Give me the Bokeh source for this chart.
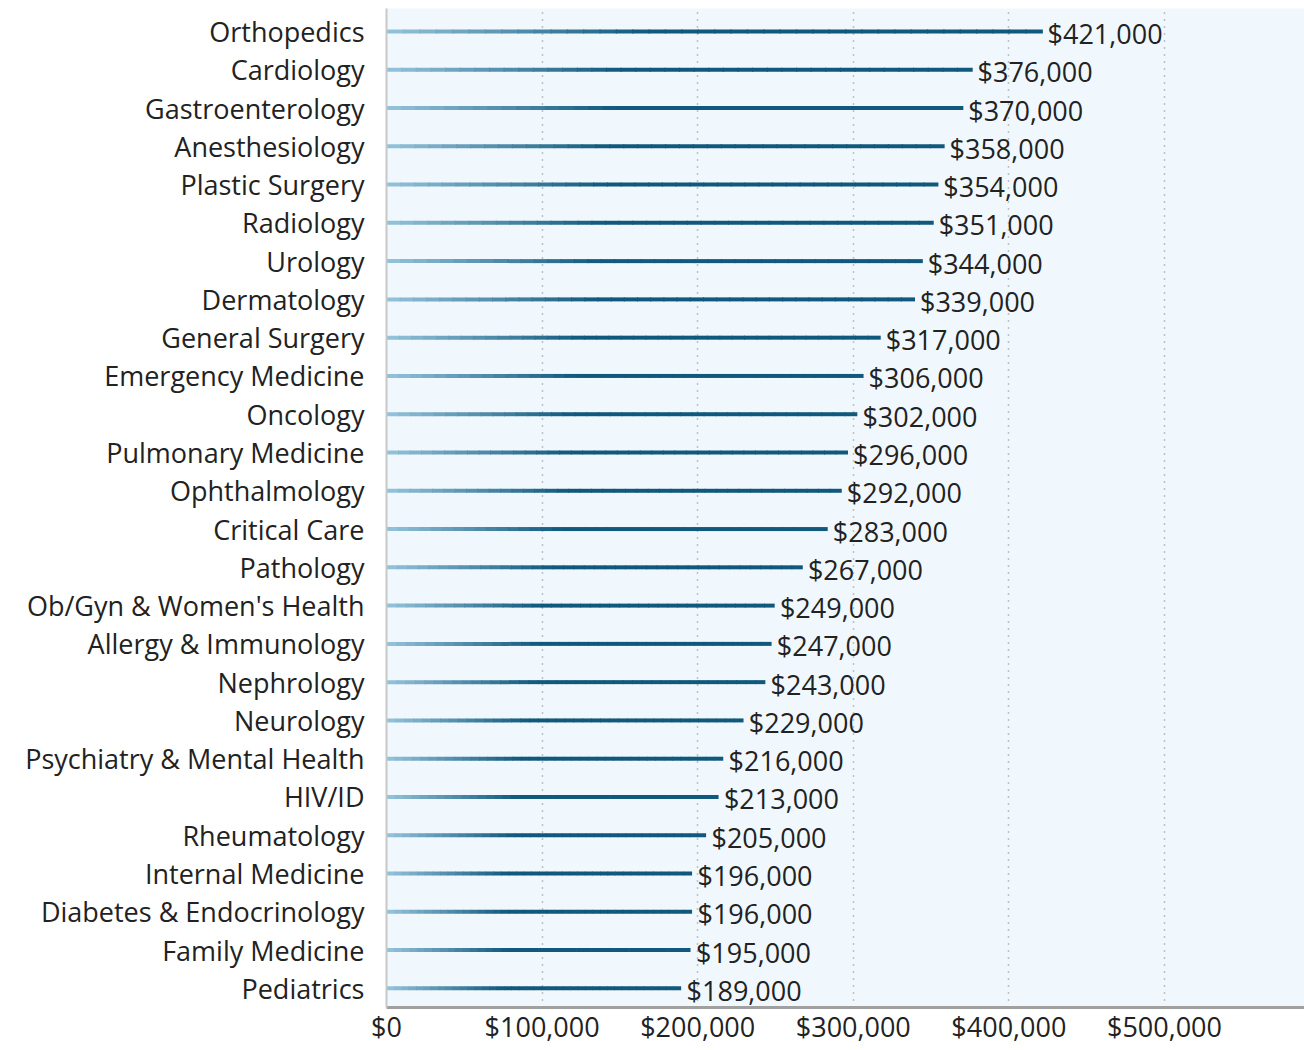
from bokeh.plotting import figure
from bokeh.models import Range1d, FixedTicker, ColumnDataSource, NumeralTickFormatter
from bokeh.core.properties import value
from bokeh.embed import file_html
from bokeh.resources import INLINE

specialties = ["Orthopedics", "Cardiology", "Gastroenterology", "Anesthesiology", "Plastic Surgery",
               "Radiology", "Urology", "Dermatology", "General Surgery", "Emergency Medicine",
               "Oncology", "Pulmonary Medicine", "Ophthalmology", "Critical Care", "Pathology",
               "Ob/Gyn & Women's Health", "Allergy & Immunology", "Nephrology", "Neurology",
               "Psychiatry & Mental Health", "HIV/ID", "Rheumatology", "Internal Medicine",
               "Diabetes & Endocrinology", "Family Medicine", "Pediatrics"]
salaries = [421000, 376000, 370000, 358000, 354000, 351000, 344000, 339000, 317000, 306000,
            302000, 296000, 292000, 283000, 267000, 249000, 247000, 243000, 229000, 216000,
            213000, 205000, 196000, 196000, 195000, 189000]
x_ticks = [0, 100000, 200000, 300000, 400000, 500000]

n = len(specialties)
ypos = [n - 1 - i for i in range(n)]

FONT = "Open Sans"
FS = "27px"

p = figure(width=1304, height=1050, output_backend="svg", toolbar_location=None,
           x_range=Range1d(0, 590000), y_range=Range1d(-0.5, n - 0.4),
           min_border_left=386, min_border_top=8, min_border_bottom=43, min_border_right=0)
p.outline_line_color = None
p.background_fill_color = "#f0f8fd"
p.border_fill_color = "white"

# gradient bars made of short pieces
light = (150, 196, 220)
dark = (16, 88, 124)
N = 40
x0s, x1s, ys, cols = [], [], [], []
for v, y in zip(salaries, ypos):
    for k in range(N):
        a = v * k / N
        b = v * (k + 1) / N
        t = min(1.0, (k + 0.5) / N / 0.4)
        c = tuple(int(light[j] + (dark[j] - light[j]) * t) for j in range(3))
        x0s.append(a); x1s.append(b + v * 0.002); ys.append(y)
        cols.append("#%02x%02x%02x" % c)
p.segment(x0=x0s, y0=ys, x1=x1s, y1=ys, line_color=cols, line_width=4)

src = ColumnDataSource(dict(x=salaries, y=ypos, lab=["${:,}".format(s) for s in salaries]))
p.text(x="x", y="y", text="lab", source=src, x_offset=6, y_offset=2,
       text_baseline="middle", text_align="left", text_font=value(FONT),
       text_font_size=FS, text_color="#222222")

p.xgrid.ticker = FixedTicker(ticks=x_ticks[1:])
p.xgrid.grid_line_color = "#8a8a8a"
p.xgrid.grid_line_dash = "1 6"
p.xgrid.grid_line_width = 1.5
p.ygrid.grid_line_color = None

p.xaxis.ticker = FixedTicker(ticks=x_ticks)
p.xaxis.formatter = NumeralTickFormatter(format="$0,0")
p.xaxis.major_tick_line_color = None
p.xaxis.minor_tick_line_color = None
p.xaxis.major_tick_out = 0
p.xaxis.major_tick_in = 0
p.xaxis.axis_line_color = "#a0a0a0"
p.xaxis.axis_line_width = 3
p.xaxis.major_label_text_font = FONT
p.xaxis.major_label_text_font_size = FS
p.xaxis.major_label_text_color = "#222222"
p.xaxis.major_label_standoff = 0

p.yaxis.ticker = FixedTicker(ticks=ypos)
p.yaxis.major_label_overrides = {y: s for y, s in zip(ypos, specialties)}
p.yaxis.major_tick_line_color = None
p.yaxis.minor_tick_line_color = None
p.yaxis.major_tick_out = 0
p.yaxis.major_tick_in = 0
p.yaxis.axis_line_color = "#c8c8c8"
p.yaxis.axis_line_width = 2
p.yaxis.major_label_text_font = FONT
p.yaxis.major_label_text_font_size = FS
p.yaxis.major_label_text_color = "#222222"
p.yaxis.major_label_standoff = 22

open("out.html", "w").write(file_html(p, INLINE))
